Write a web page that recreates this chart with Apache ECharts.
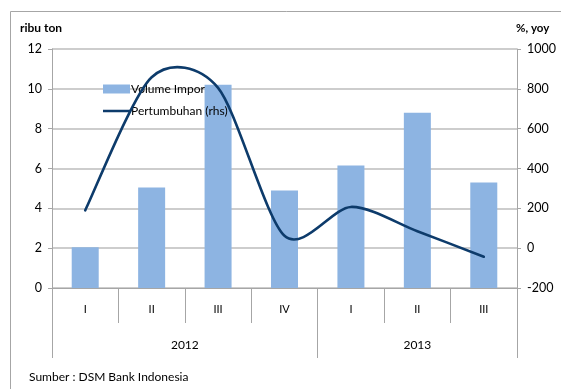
<!DOCTYPE html>
<html><head><meta charset="utf-8">
<script src="https://cdn.jsdelivr.net/npm/echarts@6/dist/echarts.min.js"></script>
<style>html,body{margin:0;padding:0;background:#fff;}#c{width:561px;height:389px;}</style>
</head><body><div id="c"></div>
<script>
const quarters = ['I','II','III','IV','I','II','III'];
const years = ['2012','2013'];
const yearSizes = [4,3];
const volumeImpor = [2.05, 5.05, 10.2, 4.9, 6.15, 8.8, 5.3];
const pertumbuhan = [190, 858, 805, 62, 207, 85, -43];
const leftTicks = {min:0, max:12, interval:2};
const rightTicks = {min:-200, max:1000, interval:200};

const bounds = [0]; yearSizes.forEach(s => bounds.push(bounds[bounds.length-1] + s));
const centers = yearSizes.map((s,i) => bounds[i] + s/2);

const FONT = 'Lato';
const LINE_COLOR = '#0D3B6B';
const TENSION = 0.14;

function smoothPath(pts){
  let d = 'M' + pts[0][0] + ',' + pts[0][1];
  for (let i = 0; i < pts.length - 1; i++){
    const p0 = pts[Math.max(i-1,0)], p1 = pts[i], p2 = pts[i+1], p3 = pts[Math.min(i+2,pts.length-1)];
    const c1 = [p1[0] + (p2[0]-p0[0])*TENSION, p1[1] + (p2[1]-p0[1])*TENSION];
    const c2 = [p2[0] - (p3[0]-p1[0])*TENSION, p2[1] - (p3[1]-p1[1])*TENSION];
    d += ' C' + c1.join(',') + ' ' + c2.join(',') + ' ' + p2.join(',');
  }
  return d;
}

const chart = echarts.init(document.getElementById('c'), null, {renderer:'canvas'});
chart.setOption({
  animation:false,
  textStyle:{fontFamily:FONT},
  grid:{left:52, right:44, top:49, bottom:101},
  legend:{
    orient:'vertical', left:98, top:78, itemGap:10, itemWidth:27, itemHeight:9,
    textStyle:{fontFamily:FONT, fontSize:12, color:'#000', padding:[0,0,0,-4]},
    data:[
      {name:'Volume Impor', icon:'rect'},
      {name:'Pertumbuhan (rhs)', icon:'path://M0,0 L0.01,0 M0,3.3 L27,3.3 L27,5.8 L0,5.8 Z M0,9 L0.01,9'}
    ]
  },
  xAxis:[{
    type:'category', data:quarters, position:'bottom',
    axisLine:{show:true, onZero:false, lineStyle:{color:'#A6A6A6', width:1}},
    axisTick:{show:true, alignWithLabel:false, interval:0, length:35, lineStyle:{color:'#A6A6A6'}},
    axisLabel:{fontFamily:FONT, fontSize:11, color:'#000', margin:16, interval:0},
  },{
    type:'value', min:0, max:bounds[bounds.length-1], position:'bottom',
    axisLine:{show:false, onZero:false},
    splitLine:{show:false},
    minorSplitLine:{show:false},
    axisTick:{show:true, length:70, customValues:bounds, lineStyle:{color:'#A6A6A6'}},
    axisLabel:{fontFamily:FONT, fontSize:12, color:'#000', margin:51, customValues:centers,
      formatter:(v)=>{const i=centers.indexOf(v); return i>=0?years[i]:'';}}
  }],
  yAxis:[{
    type:'value', min:leftTicks.min, max:leftTicks.max, interval:leftTicks.interval,
    axisLine:{show:true, lineStyle:{color:'#A6A6A6'}},
    axisTick:{show:true, length:4, lineStyle:{color:'#A6A6A6'}},
    axisLabel:{fontFamily:FONT, fontSize:12.5, color:'#000', margin:10},
    splitLine:{show:true, lineStyle:{color:'#BDBDBD', width:1.5}}
  },{
    type:'value', min:rightTicks.min, max:rightTicks.max, interval:rightTicks.interval,
    position:'right',
    axisLine:{show:true, lineStyle:{color:'#A6A6A6'}},
    axisTick:{show:true, length:4, lineStyle:{color:'#A6A6A6'}},
    axisLabel:{fontFamily:FONT, fontSize:12.5, color:'#000', margin:10, formatter:(v)=>String(v)},
    splitLine:{show:false}
  }],
  graphic:[
    {type:'rect', shape:{x:10.5, y:11.5, width:600, height:500}, style:{fill:null, stroke:'#A6A6A6', lineWidth:1}, silent:true, z:-10},
    {type:'text', left:20, top:22, style:{text:'ribu ton', font:'bold 12px Lato', fill:'#000'}},
    {type:'text', left:516, top:22, style:{text:'%, yoy', font:'bold 11.5px Lato', fill:'#000'}},
    {type:'text', left:29, top:371, style:{text:'Sumber : DSM Bank Indonesia', font:'12px Lato', fill:'#000'}}
  ],
  series:[{
    name:'Volume Impor', type:'bar', data:volumeImpor, xAxisIndex:0, yAxisIndex:0,
    barWidth:27, itemStyle:{color:'#8DB4E2'}
  },{
    name:'Pertumbuhan (rhs)', type:'custom', xAxisIndex:0, yAxisIndex:1,
    data: pertumbuhan.map((v,i)=>[i,v]),
    encode:{x:0, y:1},
    itemStyle:{color:LINE_COLOR},
    z:5,
    renderItem:(params, api)=>{
      if (params.dataIndex !== 0) return null;
      const pts = pertumbuhan.map((v,i)=>api.coord([i, v]));
      return {
        type:'path',
        shape:{pathData: smoothPath(pts)},
        style:{fill:null, stroke:LINE_COLOR, lineWidth:2.6, lineCap:'round'}
      };
    }
  }]
});
</script></body></html>
